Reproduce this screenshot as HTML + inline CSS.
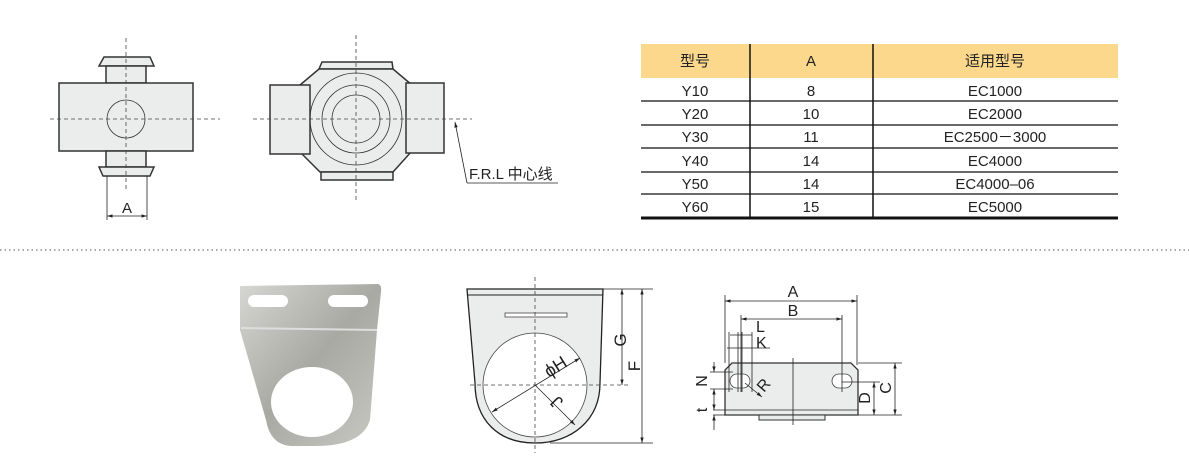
<!DOCTYPE html>
<html><head><meta charset="utf-8"><style>
html,body{margin:0;padding:0;background:#fff;width:1189px;height:465px;overflow:hidden}
svg{display:block}
text{font-family:"Liberation Sans","Noto Sans CJK SC",sans-serif;fill:#222}
</style></head><body>
<svg width="1189" height="465" viewBox="0 0 1189 465" xmlns="http://www.w3.org/2000/svg">
<defs>
<marker id="ar" viewBox="0 0 10 10" refX="10" refY="5" markerWidth="7" markerHeight="7" orient="auto-start-reverse"><path d="M0,2 L10,5 L0,8 Z" fill="#222"/></marker>
<linearGradient id="mg" x1="0" y1="0" x2="1" y2="1"><stop offset="0" stop-color="#d6d6d2"/><stop offset="0.5" stop-color="#a9a9a4"/><stop offset="1" stop-color="#c9c9c4"/></linearGradient>
</defs>
<g stroke="#333" fill="#ebedec" stroke-width="1.5">
<polygon points="104,57 150,57 154,66 99,66"/>
<rect x="106" y="66" width="40" height="17"/>
<rect x="59" y="83" width="134" height="68"/>
<rect x="106" y="151" width="40" height="16"/>
<polygon points="99,167 154,167 150,176 103,176"/>
<circle cx="126" cy="119" r="19" stroke-width="0.8" fill="none"/>
<polygon points="322,62 392,62 393,69 319,69"/>
<polygon points="319,69 393,69 412,85 412,151 393,172 320,172 300,152 300,85"/>
<polygon points="321,172 393,172 393,180 321,180"/>
<rect x="270" y="85" width="40" height="69"/>
<rect x="406" y="83" width="38" height="70"/>
<circle cx="356" cy="119" r="46" fill="none" stroke-width="0.8"/>
<circle cx="356" cy="119" r="34" fill="none" stroke-width="0.8"/>
<circle cx="356" cy="119" r="24" fill="none" stroke-width="0.8"/>
</g>
<g stroke="#444" stroke-width="0.8" stroke-dasharray="4,3" fill="none">
<line x1="50" y1="119" x2="220" y2="119"/><line x1="126" y1="38" x2="126" y2="192"/>
<line x1="253" y1="119" x2="472" y2="119"/><line x1="356" y1="35" x2="356" y2="203"/>
</g>
<g stroke="#222" stroke-width="0.8" fill="none">
<line x1="107" y1="176" x2="107" y2="220"/><line x1="147" y1="176" x2="147" y2="220"/>
<line x1="107" y1="216" x2="147" y2="216" marker-start="url(#ar)" marker-end="url(#ar)"/>
<polyline points="467,183 558,183" /><line x1="467" y1="183" x2="455" y2="122" marker-end="url(#ar)"/>
</g>
<text x="127" y="213" font-size="15" text-anchor="middle">A</text>
<text x="469" y="179" font-size="15">F.R.L 中心线</text>
<rect x="641" y="44" width="477" height="34" fill="#fbd88c"/>
<g font-size="15" text-anchor="middle">
<text x="695" y="66">型号</text><text x="811" y="66">A</text><text x="995" y="66">适用型号</text>
<text x="695" y="96">Y10</text><text x="811" y="96">8</text><text x="995" y="96">EC1000</text>
<text x="695" y="119">Y20</text><text x="811" y="119">10</text><text x="995" y="119">EC2000</text>
<text x="695" y="142">Y30</text><text x="811" y="142">11</text><text x="995" y="142">EC2500－3000</text>
<text x="695" y="166">Y40</text><text x="811" y="166">14</text><text x="995" y="166">EC4000</text>
<text x="695" y="189">Y50</text><text x="811" y="189">14</text><text x="995" y="189">EC4000–06</text>
<text x="695" y="212">Y60</text><text x="811" y="212">15</text><text x="995" y="212">EC5000</text>
</g>
<g stroke="#111">
<line x1="641" y1="101" x2="1118" y2="101" stroke-width="1.3"/>
<line x1="641" y1="125" x2="1118" y2="125" stroke-width="1.3"/>
<line x1="641" y1="148" x2="1118" y2="148" stroke-width="1.3"/>
<line x1="641" y1="172" x2="1118" y2="172" stroke-width="1.3"/>
<line x1="641" y1="194" x2="1118" y2="194" stroke-width="1.3"/>
<line x1="641" y1="218" x2="1118" y2="218" stroke-width="3"/>
<line x1="750" y1="44" x2="750" y2="217" stroke-width="1.5"/>
<line x1="873" y1="44" x2="873" y2="217" stroke-width="1.5"/>
</g>
<line x1="0" y1="250" x2="1189" y2="250" stroke="#777" stroke-width="1.2" stroke-dasharray="1.5,3"/>
<path d="M240,286 L378,284 Q382,285 381,292 L377,330 L370,420 Q362,446 315,446 L290,446 Q270,444 266,420 L240,330 Z" fill="url(#mg)"/>
<line x1="241" y1="328" x2="377" y2="330" stroke="#ddd" stroke-width="2"/>
<ellipse cx="312" cy="402" rx="41" ry="35" fill="#fff"/>
<rect x="248" y="295" width="40" height="12" rx="6" fill="#fff"/>
<rect x="328" y="295" width="40" height="12" rx="6" fill="#fff"/>
<path d="M467,289 L603,289 L600,383 C600,420 572,443 535,443 C498,443 475,420 475,383 Z" fill="#ebedec" stroke="#222" stroke-width="1.3"/>
<line x1="467" y1="295" x2="603" y2="295" stroke="#222" stroke-width="1"/>
<rect x="505" y="313" width="62" height="4" fill="#fff" stroke="#444" stroke-width="0.8"/>
<circle cx="535" cy="385" r="52" fill="#fff" stroke="#444" stroke-width="0.8"/>
<g stroke="#444" stroke-width="0.8" stroke-dasharray="4,3"><line x1="535" y1="277" x2="535" y2="453"/><line x1="470" y1="385" x2="628" y2="385"/></g>
<g stroke="#222" stroke-width="0.8" fill="none">
<line x1="492" y1="412" x2="580" y2="358" marker-start="url(#ar)" marker-end="url(#ar)"/>
<line x1="535" y1="385" x2="575" y2="425" marker-end="url(#ar)"/>
<line x1="603" y1="289" x2="653" y2="289"/><line x1="550" y1="443" x2="653" y2="443"/>
<line x1="622" y1="289" x2="622" y2="385" marker-start="url(#ar)" marker-end="url(#ar)"/>
<line x1="642" y1="289" x2="642" y2="443" marker-start="url(#ar)" marker-end="url(#ar)"/>
</g>
<text font-size="18" transform="translate(549,378) rotate(-32)">ϕH</text>
<text font-size="18" transform="translate(561,398) rotate(-135)" text-anchor="middle">J</text>
<text font-size="17" transform="translate(626,340) rotate(-90)" text-anchor="middle">G</text>
<text font-size="17" transform="translate(640,366) rotate(-90)" text-anchor="middle">F</text>
<path d="M732,363 L851,363 L858,370 L858,415 L725,415 L725,370 Z" fill="#ebedec" stroke="#333" stroke-width="1.3"/>
<rect x="759" y="415" width="66" height="5" fill="#ebedec" stroke="#333" stroke-width="1"/>
<rect x="730" y="374" width="20" height="14" rx="7" fill="#fff" stroke="#444" stroke-width="0.8"/>
<rect x="832" y="374" width="20" height="14" rx="7" fill="#fff" stroke="#444" stroke-width="0.8"/>
<g stroke="#222" stroke-width="0.8" fill="none">
<line x1="793" y1="358" x2="793" y2="425"/>
<line x1="725" y1="295" x2="725" y2="363"/><line x1="857" y1="295" x2="857" y2="365"/>
<line x1="725" y1="301" x2="857" y2="301" marker-start="url(#ar)" marker-end="url(#ar)"/>
<line x1="741" y1="315" x2="741" y2="392"/><line x1="842" y1="315" x2="842" y2="392"/>
<line x1="741" y1="319" x2="842" y2="319" marker-start="url(#ar)" marker-end="url(#ar)"/>
<line x1="729" y1="332" x2="729" y2="392"/><line x1="738" y1="332" x2="738" y2="392"/>
<line x1="742" y1="332" x2="742" y2="392"/><line x1="752" y1="332" x2="752" y2="392"/>
<line x1="730" y1="335" x2="752" y2="335"/>
<line x1="727" y1="348" x2="770" y2="348"/>
<line x1="710" y1="372" x2="733" y2="372"/><line x1="710" y1="389" x2="733" y2="389"/>
<line x1="714" y1="362" x2="714" y2="372" marker-end="url(#ar)"/><line x1="714" y1="400" x2="714" y2="389" marker-end="url(#ar)"/>
<line x1="713" y1="410" x2="858" y2="410"/><line x1="713" y1="415" x2="725" y2="415"/>
<line x1="714" y1="400" x2="714" y2="410" marker-end="url(#ar)"/><line x1="714" y1="430" x2="714" y2="415" marker-end="url(#ar)"/>
<line x1="745" y1="383" x2="762" y2="397" marker-end="url(#ar)"/>
<line x1="858" y1="363" x2="902" y2="363"/><line x1="858" y1="415" x2="902" y2="415"/>
<line x1="895" y1="363" x2="895" y2="415" marker-start="url(#ar)" marker-end="url(#ar)"/>
<line x1="842" y1="382" x2="880" y2="382"/>
<line x1="874" y1="382" x2="874" y2="415" marker-start="url(#ar)" marker-end="url(#ar)"/>
</g>
<g font-size="16">
<text x="793" y="297" text-anchor="middle">A</text>
<text x="793" y="316" text-anchor="middle">B</text>
<text x="756" y="332">L</text>
<text x="756" y="348">K</text>
<text transform="translate(707,381) rotate(-90)" text-anchor="middle">N</text>
<text transform="translate(707,410) rotate(-90)" text-anchor="middle">t</text>
<text transform="translate(764,393) rotate(-50)">R</text>
<text transform="translate(870,398) rotate(-90)" text-anchor="middle">D</text>
<text transform="translate(891,388) rotate(-90)" text-anchor="middle">C</text>
</g>
</svg>
</body></html>
